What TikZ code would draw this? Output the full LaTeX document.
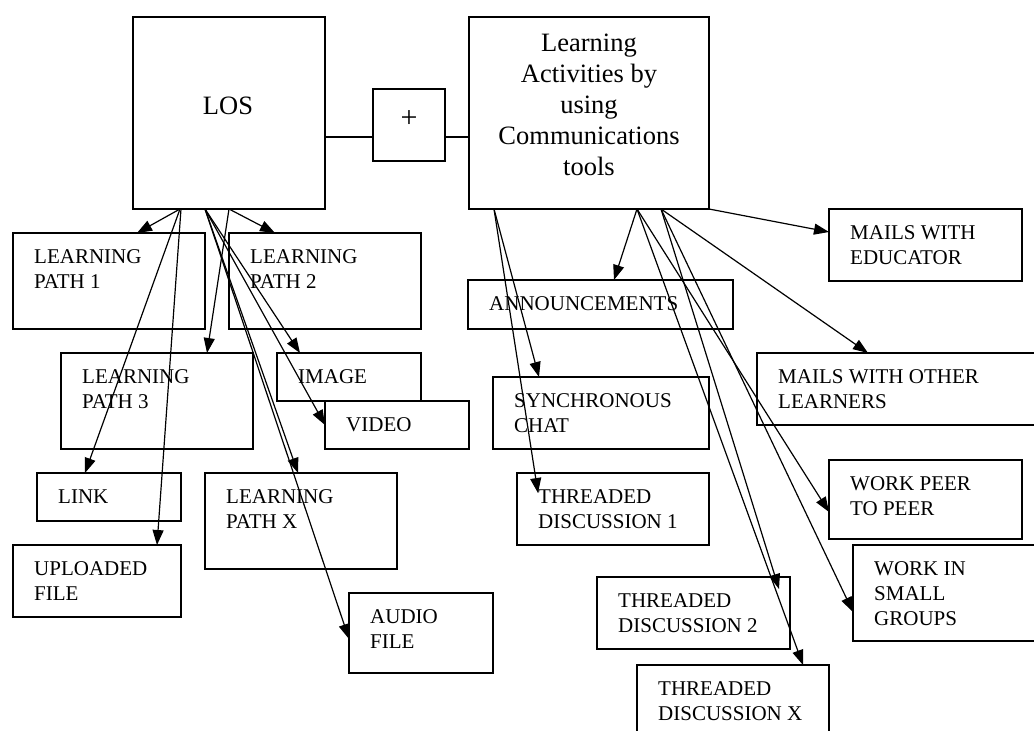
\documentclass[tikz,border=0pt]{standalone}
\usepackage{fontspec}
\setmainfont{Liberation Serif}
\usetikzlibrary{arrows.meta}
\usetikzlibrary{calc}

\tikzset{
  box/.style={draw, line width=1.5pt, anchor=north west, inner sep=0pt, outer sep=0pt},
  % #1 = number of lines (base anchor sits on the last line)
  tag/.style={anchor=base west, xshift=21pt, yshift={-5pt-25pt*#1}, align=left, inner sep=0pt, font=\fontsize{21}{25}\selectfont},
  big/.style={inner sep=0pt, font=\fontsize{26.5}{31}\selectfont},
  arr/.style={-{Triangle[length=15pt,width=11pt]}, line width=1.2pt}
}

\begin{document}
\begin{tikzpicture}[x=1pt, y=-1pt]
\path[use as bounding box] (0,0) rectangle (1034,731);
\clip (0,0) rectangle (1034,731);

% top row
\node[box, minimum width=192pt, minimum height=192pt] (los) at (133,17) {};
\node[box, minimum width=72pt, minimum height=72pt] (plus) at (373,89) {};
\node[box, minimum width=240pt, minimum height=192pt] (la) at (469,17) {};

\node[big, anchor=base] (los-txt) at (228,114) {LOS};
\node[big, font=\fontsize{30}{31}\selectfont] (plus-txt) at (409,119) {+};
\node[big, anchor=base, align=center] (la-txt) at (589,175) {Learning\\Activities by\\using\\Communications\\tools};

\draw[line width=1.2pt] (los.east |- 0,137) -- (plus.west |- 0,137);
\draw[line width=1.2pt] (plus.east |- 0,137) -- (la.west |- 0,137);

% learning objects
\node[box, minimum width=192pt, minimum height=96pt, label={[tag=2]north west:{LEARNING\\PATH 1}}] (lp1) at (13,233) {};
\node[box, minimum width=192pt, minimum height=96pt, label={[tag=2]north west:{LEARNING\\PATH 2}}] (lp2) at (229,233) {};
\node[box, minimum width=192pt, minimum height=96pt, label={[tag=2]north west:{LEARNING\\PATH 3}}] (lp3) at (61,353) {};
\node[box, minimum width=144pt, minimum height=48pt, label={[tag=1]north west:IMAGE}] (image) at (277,353) {};
\node[box, minimum width=144pt, minimum height=48pt, label={[tag=1]north west:VIDEO}] (video) at (325,401) {};
\node[box, minimum width=144pt, minimum height=48pt, label={[tag=1]north west:LINK}] (link) at (37,473) {};
\node[box, minimum width=192pt, minimum height=96pt, label={[tag=2]north west:{LEARNING\\PATH X}}] (lpx) at (205,473) {};
\node[box, minimum width=168pt, minimum height=72pt, label={[tag=2]north west:{UPLOADED\\FILE}}] (upl) at (13,545) {};
\node[box, minimum width=144pt, minimum height=80pt, label={[tag=2]north west:{AUDIO\\FILE}}] (audio) at (349,593) {};

% communication activities
\node[box, minimum width=265pt, minimum height=49pt, label={[tag=1]north west:ANNOUNCEMENTS}] (ann) at (468,280) {};
\node[box, minimum width=216pt, minimum height=72pt, label={[tag=2]north west:{SYNCHRONOUS\\CHAT}}] (sync) at (493,377) {};
\node[box, minimum width=192pt, minimum height=72pt, label={[tag=2]north west:{THREADED\\DISCUSSION 1}}] (td1) at (517,473) {};
\node[box, minimum width=193pt, minimum height=72pt, label={[tag=2]north west:{THREADED\\DISCUSSION 2}}] (td2) at (597,577) {};
\node[box, minimum width=192pt, minimum height=80pt, label={[tag=2]north west:{THREADED\\DISCUSSION X}}] (tdx) at (637,665) {};
\node[box, minimum width=193pt, minimum height=72pt, label={[tag=2]north west:{MAILS WITH\\EDUCATOR}}] (medu) at (829,209) {};
\node[box, minimum width=290pt, minimum height=72pt, label={[tag=2]north west:{MAILS WITH OTHER\\LEARNERS}}] (moth) at (757,353) {};
\node[box, minimum width=193pt, minimum height=79pt, label={[tag=2]north west:{WORK PEER\\TO PEER}}] (wp) at (829,460) {};
\node[box, minimum width=200pt, minimum height=96pt, label={[tag=3]north west:{WORK IN\\SMALL\\GROUPS}}] (ws) at (853,545) {};

% arrows from LOS
\draw[arr] ($(los.south west)+(47,0)$) -- ($(lp1.north west)+(124,0)$);
\draw[arr] ($(los.south west)+(96,0)$) -- ($(lp2.north west)+(46,0)$);
\draw[arr] ($(los.south west)+(96,0)$) -- ($(lp3.north west)+(146,0)$);
\draw[arr] ($(los.south west)+(72,0)$) -- ($(image.north west)+(23,0)$);
\draw[arr] ($(los.south west)+(72,0)$) -- ($(video.north west)+(0,24)$);
\draw[arr] ($(los.south west)+(47,0)$) -- ($(link.north west)+(48,0)$);
\draw[arr] ($(los.south west)+(48,0)$) -- ($(upl.north west)+(144,0)$);
\draw[arr] ($(los.south west)+(72,0)$) -- ($(lpx.north west)+(93,0)$);
\draw[arr] ($(los.south west)+(72,0)$) -- ($(audio.north west)+(0,46)$);

% arrows from learning activities
\draw[arr] ($(la.south west)+(168,0)$) -- ($(ann.north west)+(146,0)$);
\draw[arr] ($(la.south west)+(25,0)$) -- ($(sync.north west)+(46,0)$);
\draw[arr] ($(la.south west)+(25,0)$) -- ($(td1.north west)+(21,20)$);
\draw[arr] (la.south east) -- ($(medu.north west)+(0,23)$);
\draw[arr] ($(la.south west)+(192,0)$) -- ($(moth.north west)+(111,0)$);
\draw[arr] ($(la.south west)+(192,0)$) -- ($(td2.north west)+(182,12)$);
\draw[arr] ($(la.south west)+(168,0)$) -- ($(tdx.north west)+(166,0)$);
\draw[arr] ($(la.south west)+(168,0)$) -- ($(wp.north west)+(0,52)$);
\draw[arr] ($(la.south west)+(192,0)$) -- ($(ws.north west)+(0,67)$);
\end{tikzpicture}
\end{document}
